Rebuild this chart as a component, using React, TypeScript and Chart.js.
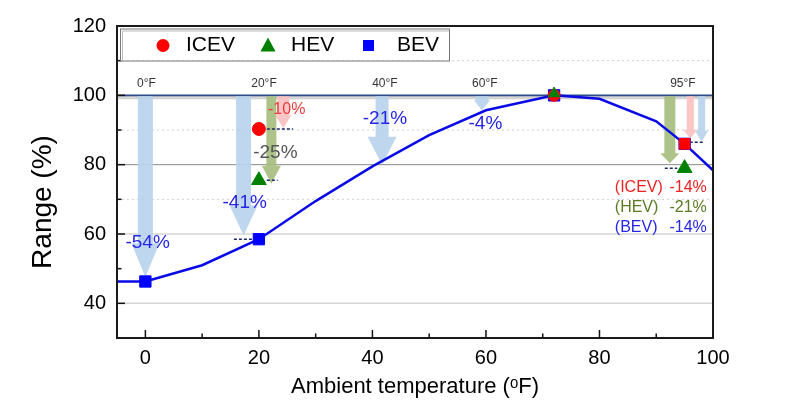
import React, { useEffect, useRef } from 'react';
import { Chart, registerables } from 'chart.js';

Chart.register(...registerables);

const FONT = "'Liberation Sans', Arial, 'DejaVu Sans', sans-serif";

// BEV range curve (% of range at 72°F)
const curveTemps = [-5, 0, 10, 20, 30, 40, 50, 60, 72, 80, 90, 95, 100];
const bevCurve = [46.3, 46.3, 51, 58.5, 69.5, 79.5, 88.5, 95.7, 100, 99, 92.5, 86, 78.4];

// measured points
const bevTemps = [0, 20, 72, 95];
const bevPoints = [46.3, 58.5, 100, 86];
const icevTemps = [20, 72, 95];
const icevPoints = [90.3, 100, 86];
const hevTemps = [20, 72, 95];
const hevPoints = [75.5, 100.5, 79];

const xTicks = [0, 20, 40, 60, 80, 100];
const xMinorTicks = [10, 30, 50, 70, 90];
const yTicks = [40, 60, 80, 100, 120];
const yMinorTicks = [50, 70, 90, 110];

// drop arrows, from 100% down to the value
const arrowStart = 100;
const bevArrowTemps = [0, 17.3, 41.7, 59.3, 98];
const bevArrowEnds = [47.5, 59.6, 80, 95.7, 86.6];
const icevArrowTemps = [24.3, 96];
const icevArrowEnds = [90.5, 87.5];
const hevArrowTemps = [22.2, 92.4];
const hevArrowEnds = [74.5, 80.4];

// short dashed reference marks
const dashLevels = [90.3, 75.5, 58.5, 86.5, 79];
const dashFrom = [21.4, 21.4, 15.6, 95.9, 91.5];
const dashTo = [26, 23.3, 18.9, 98.2, 93.7];

// temperature labels
const tempLabels = ['0°F', '20°F', '40°F', '60°F', '95°F'];
const tempLabelX = [0.2, 20.9, 42.2, 59.8, 94.7];
const tempLabelY = 103.5;

// BEV drop labels
const bevDropLabels = ['-54%', '-41%', '-21%', '-4%'];
const bevDropX = [0.4, 17.5, 42.2, 59.9];
const bevDropY = [57.6, 69.1, 93.1, 91.9];

const icevDropLabel = '-10%';
const icevDropAt = [24.9, 96.0];
const hevDropLabel = '-25%';
const hevDropAt = [22.9, 83.3];

// 95°F summary
const summaryNames = ['(ICEV)', '(HEV)', '(BEV)'];
const summaryValues = ['-14%', '-21%', '-14%'];
const summaryY = [73.5, 67.7, 61.9];
const summaryNameX = 82.7;
const summaryValueX = 98.9;

const legendLabels = ['ICEV', 'HEV', 'BEV'];

const RED = '#ff0000';
const GREEN = '#008000';
const BLUE = '#0000ff';

const bevArrowStyle = [
  { shaft: 15, headW: 28, headL: 34 },
  { shaft: 15, headW: 28, headL: 30 },
  { shaft: 13, headW: 29, headL: 28 },
  { shaft: 13, headW: 16, headL: 10 },
  { shaft: 7, headW: 13, headL: 11 },
];
const icevArrowStyle = [
  { shaft: 12, headW: 16, headL: 13 },
  { shaft: 7, headW: 14, headL: 9 },
];
const hevArrowStyle = [
  { shaft: 10, headW: 19, headL: 18 },
  { shaft: 11, headW: 19, headL: 10 },
];

function drawArrow(ctx: CanvasRenderingContext2D, x: number, y0: number, y1: number, s: { shaft: number; headW: number; headL: number }, color: string) {
  const hs = s.shaft / 2;
  const hh = s.headW / 2;
  const yb = y1 - s.headL;
  ctx.beginPath();
  ctx.moveTo(x - hs, y0);
  ctx.lineTo(x + hs, y0);
  ctx.lineTo(x + hs, yb);
  ctx.lineTo(x + hh, yb);
  ctx.lineTo(x, y1);
  ctx.lineTo(x - hh, yb);
  ctx.lineTo(x - hs, yb);
  ctx.closePath();
  ctx.fillStyle = color;
  ctx.fill();
}

const annotations = {
  id: 'annotations',
  beforeDatasetsDraw(chart: any) {
    const { ctx, chartArea: a } = chart;
    const xs = chart.scales.x;
    const ys = chart.scales.y;
    ctx.save();
    // grid lines
    const grid = (v: number, color: string, w: number, dash: number[]) => {
      const y = ys.getPixelForValue(v);
      ctx.beginPath();
      ctx.setLineDash(dash);
      ctx.strokeStyle = color;
      ctx.lineWidth = w;
      ctx.moveTo(a.left, y);
      ctx.lineTo(a.right, y);
      ctx.stroke();
    };
    grid(40, '#d6d6d6', 1.5, []);
    grid(60, '#d6d6d6', 1.5, []);
    grid(80, '#8a8a8a', 1, []);
    grid(70, '#cfcfcf', 1, [2, 3]);
    grid(90, '#cfcfcf', 1, [2, 3]);
    grid(110, '#cfcfcf', 1, [2, 3]);
    ctx.setLineDash([]);
    // 100% reference line with soft shadow
    const y100 = ys.getPixelForValue(100);
    ctx.fillStyle = '#d4d4d4';
    ctx.fillRect(a.left, y100 + 0.5, a.right - a.left, 3.5);
    ctx.strokeStyle = '#2c4a8c';
    ctx.lineWidth = 1.6;
    ctx.beginPath();
    ctx.moveTo(a.left, y100);
    ctx.lineTo(a.right, y100);
    ctx.stroke();

    const yStart = ys.getPixelForValue(arrowStart) + 1;
    bevArrowTemps.forEach((t, i) =>
      drawArrow(ctx, xs.getPixelForValue(t), yStart, ys.getPixelForValue(bevArrowEnds[i]), bevArrowStyle[i], 'rgba(184,211,236,0.9)'));
    hevArrowTemps.forEach((t, i) =>
      drawArrow(ctx, xs.getPixelForValue(t), yStart, ys.getPixelForValue(hevArrowEnds[i]), hevArrowStyle[i], 'rgba(164,188,124,0.9)'));
    icevArrowTemps.forEach((t, i) =>
      drawArrow(ctx, xs.getPixelForValue(t), yStart, ys.getPixelForValue(icevArrowEnds[i]), icevArrowStyle[i], 'rgba(250,192,192,0.9)'));

    // dashed marks
    ctx.setLineDash([3, 2]);
    ctx.strokeStyle = '#1c2a66';
    ctx.lineWidth = 1.5;
    dashLevels.forEach((v, i) => {
      const y = ys.getPixelForValue(v);
      ctx.beginPath();
      ctx.moveTo(xs.getPixelForValue(dashFrom[i]), y);
      ctx.lineTo(xs.getPixelForValue(dashTo[i]), y);
      ctx.stroke();
    });
    ctx.setLineDash([]);

    // texts
    ctx.textAlign = 'center';
    ctx.textBaseline = 'middle';
    ctx.fillStyle = '#333333';
    ctx.font = `12px ${FONT}`;
    tempLabels.forEach((l, i) => ctx.fillText(l, xs.getPixelForValue(tempLabelX[i]), ys.getPixelForValue(tempLabelY)));

    ctx.font = `19px ${FONT}`;
    ctx.fillStyle = '#2626e6';
    bevDropLabels.forEach((l, i) => ctx.fillText(l, xs.getPixelForValue(bevDropX[i]), ys.getPixelForValue(bevDropY[i])));
    ctx.fillStyle = '#555555';
    ctx.fillText(hevDropLabel, xs.getPixelForValue(hevDropAt[0]), ys.getPixelForValue(hevDropAt[1]));
    ctx.font = `16px ${FONT}`;
    ctx.fillStyle = '#f03a3a';
    ctx.fillText(icevDropLabel, xs.getPixelForValue(icevDropAt[0]), ys.getPixelForValue(icevDropAt[1]));

    const sumColors = ['#ee2222', '#5b7a22', '#2626e6'];
    summaryNames.forEach((n, i) => {
      ctx.fillStyle = sumColors[i];
      const y = ys.getPixelForValue(summaryY[i]);
      ctx.textAlign = 'left';
      ctx.fillText(n, xs.getPixelForValue(summaryNameX), y);
      ctx.textAlign = 'right';
      ctx.fillText(summaryValues[i], xs.getPixelForValue(summaryValueX), y);
    });
    ctx.restore();
  },
  afterDraw(chart: any) {
    const { ctx, chartArea: a } = chart;
    const xs = chart.scales.x;
    const ys = chart.scales.y;
    ctx.save();
    // tick marks (inward)
    ctx.strokeStyle = '#111';
    ctx.lineWidth = 1.5;
    const tick = (x0: number, y0: number, x1: number, y1: number) => {
      ctx.beginPath();
      ctx.moveTo(x0, y0);
      ctx.lineTo(x1, y1);
      ctx.stroke();
    };
    xTicks.forEach((t) => { const x = xs.getPixelForValue(t); tick(x, a.bottom, x, a.bottom - 8); });
    xMinorTicks.forEach((t) => { const x = xs.getPixelForValue(t); tick(x, a.bottom, x, a.bottom - 4.5); });
    yTicks.forEach((t) => { const y = ys.getPixelForValue(t); tick(a.left, y, a.left + 8, y); });
    yMinorTicks.forEach((t) => { const y = ys.getPixelForValue(t); tick(a.left, y, a.left + 4.5, y); });

    // legend box
    const bx = a.left + 3, by = a.top + 2.5, bw = 329, bh = 32;
    ctx.fillStyle = '#ffffff';
    ctx.fillRect(bx, by, bw, bh);
    ctx.strokeStyle = '#777';
    ctx.lineWidth = 1;
    ctx.strokeRect(bx + 0.5, by + 0.5, bw, bh);
    ctx.strokeStyle = '#bbb';
    ctx.beginPath();
    ctx.moveTo(bx + 2.5, by + bh);
    ctx.lineTo(bx + 2.5, by + 2.5);
    ctx.lineTo(bx + bw, by + 2.5);
    ctx.stroke();
    const ly = by + bh / 2 + 1;
    // ICEV
    ctx.fillStyle = RED;
    ctx.beginPath();
    ctx.arc(bx + 43, ly, 6.5, 0, Math.PI * 2);
    ctx.fill();
    // HEV
    ctx.fillStyle = GREEN;
    ctx.beginPath();
    ctx.moveTo(bx + 148, ly - 8);
    ctx.lineTo(bx + 155.5, ly + 6);
    ctx.lineTo(bx + 140.5, ly + 6);
    ctx.closePath();
    ctx.fill();
    // BEV
    ctx.fillStyle = BLUE;
    ctx.fillRect(bx + 243, ly - 5.5, 11, 11);
    ctx.fillStyle = '#000';
    ctx.font = `21px ${FONT}`;
    ctx.textAlign = 'left';
    ctx.textBaseline = 'middle';
    ctx.fillText(legendLabels[0], bx + 66, ly);
    ctx.fillText(legendLabels[1], bx + 171, ly);
    ctx.fillText(legendLabels[2], bx + 277, ly);

    // frame
    ctx.strokeStyle = '#1a1a1a';
    ctx.lineWidth = 2;
    ctx.strokeRect(a.left, a.top, a.right - a.left, a.bottom - a.top);

    // y title
    ctx.translate(43, 202);
    ctx.rotate(-Math.PI / 2);
    ctx.fillStyle = '#000';
    ctx.font = `28px ${FONT}`;
    ctx.textAlign = 'center';
    ctx.textBaseline = 'middle';
    ctx.fillText('Range (%)', 0, 0);
    ctx.restore();
  },
};

export default function App() {
  const ref = useRef<HTMLCanvasElement | null>(null);
  useEffect(() => {
    document.body.style.margin = '0';
    const canvas = ref.current;
    if (!canvas) return;
    const pts = (xs: number[], ys: number[]) => xs.map((x, i) => ({ x, y: ys[i] }));
    const chart = new Chart(canvas, {
      type: 'scatter',
      data: {
        datasets: [
          {
            label: 'HEV',
            data: pts(hevTemps, hevPoints),
            pointStyle: 'triangle',
            pointRadius: [8.5, 6.5, 8.5],
            backgroundColor: GREEN,
            borderColor: GREEN,
            borderWidth: 1,
            showLine: false,
            order: 1,
          },
          {
            label: 'ICEV',
            data: pts(icevTemps, icevPoints),
            pointStyle: ['circle', 'circle', 'rect'],
            pointRadius: [6.5, 6, 7.5],
            backgroundColor: RED,
            borderColor: RED,
            borderWidth: 1,
            showLine: false,
            order: 2,
          },
          {
            label: 'BEV',
            data: pts(bevTemps, bevPoints),
            pointStyle: 'rect',
            pointRadius: 8,
            backgroundColor: BLUE,
            borderColor: BLUE,
            borderWidth: 1,
            showLine: false,
            order: 3,
          },
          {
            label: 'BEV curve',
            data: pts(curveTemps, bevCurve),
            showLine: true,
            pointRadius: 0,
            borderColor: '#0a0ae6',
            borderWidth: 2.5,
            tension: 0,
            order: 4,
          } as any,
        ],
      },
      options: {
        animation: false,
        responsive: false,
        devicePixelRatio: 1,
        layout: { padding: { left: 0, top: 26, right: 86, bottom: 0 } },
        plugins: { legend: { display: false }, tooltip: { enabled: false } },
        scales: {
          x: {
            type: 'linear',
            min: -5,
            max: 100,
            afterBuildTicks: (s: any) => { s.ticks = xTicks.map((v) => ({ value: v })); },
            afterFit: (s: any) => { s.height = 64; },
            grid: { display: false, drawTicks: false },
            border: { display: false },
            ticks: { color: '#000', font: { family: FONT, size: 20 }, padding: 8, maxRotation: 0 },
            title: {
              display: true,
              text: 'Ambient temperature (ᵒF)',
              color: '#000',
              font: { family: FONT, size: 22 },
              padding: { top: 0, bottom: 2 },
            },
          },
          y: {
            type: 'linear',
            min: 30,
            max: 120,
            afterBuildTicks: (s: any) => { s.ticks = yTicks.map((v) => ({ value: v })); },
            afterFit: (s: any) => { s.width = 117; },
            grid: { display: false, drawTicks: false },
            border: { display: false },
            ticks: { color: '#000', font: { family: FONT, size: 20 }, padding: 11 },
          },
        },
      },
      plugins: [annotations],
    });
    return () => chart.destroy();
  }, []);
  return (
    <div style={{ width: 799, height: 402, background: '#fff' }}>
      <canvas ref={ref} width={799} height={402} />
    </div>
  );
}
